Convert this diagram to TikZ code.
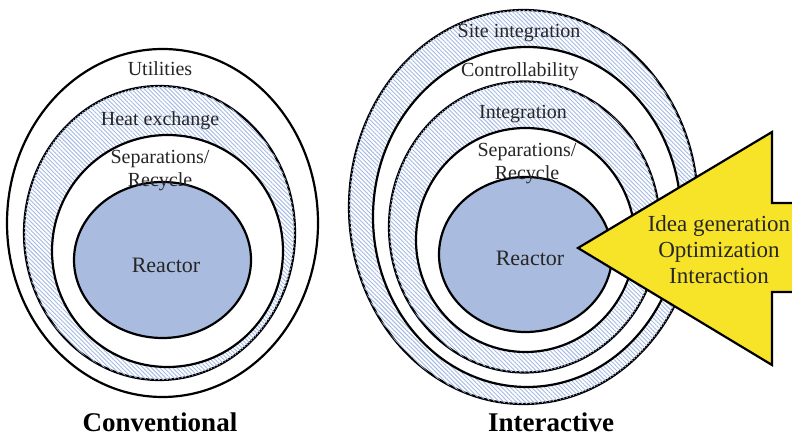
\documentclass[tikz,border=0pt]{standalone}
\usepackage{fontspec}
\setmainfont{Liberation Serif}
\usetikzlibrary{patterns.meta}

\definecolor{reactorblue}{RGB}{169,187,222}
\definecolor{hatchblue}{RGB}{165,186,228}
\definecolor{ideayellow}{RGB}{247,228,40}

\tikzset{
  ring/.style={draw=black,line width=1.1pt},
  hatched/.style={ring,fill=white,postaction={pattern={Lines[angle=-45,distance=1.5pt,line width=0.45pt]},pattern color=hatchblue}},
  plain/.style={ring,fill=white},
  core/.style={ring,fill=reactorblue},
  layer/.style={font=\fontsize{10}{11.5}\selectfont,text=black!85,align=center,inner sep=0pt},
  title/.style={font=\fontsize{13.5}{15}\selectfont\bfseries,inner sep=0pt}
}

\begin{document}
\begin{tikzpicture}[x=0.5pt,y=-0.5pt]

          \useasboundingbox (0,0) rectangle (792,437);

          \begin{scope}
            \clip (0,0) rectangle (792,437);

            % conventional onion
            \draw[plain]   (162.5,223) ellipse [x radius=155.5, y radius=174];
            \draw[hatched] (159.5,233) ellipse [x radius=135.5, y radius=147];
            \draw[plain]   (167.5,251) ellipse [x radius=115.5, y radius=116];
            \draw[core]    (162.5,260) ellipse [x radius=88.5, y radius=78];

            % interactive onion
            \draw[hatched] (523.5,207) ellipse [x radius=174.5, y radius=197];
            \draw[plain]   (527,217)   ellipse [x radius=154, y radius=170];
            \draw[hatched] (524.5,227) ellipse [x radius=135.5, y radius=145.5];
            \draw[plain]   (525.5,240) ellipse [x radius=109.5, y radius=112];
            \draw[core]    (525.5,254.5) ellipse [x radius=86.5, y radius=77.5];

            % arrow pointing into the reactor
            \draw[line width=1.1pt,fill=ideayellow,line join=miter]
              (578,248) -- (772,132) -- (772,203) -- (800,203) -- (800,292)
              -- (772,292) -- (772,365) -- cycle;
          \end{scope}

          \begin{scope}[every node/.style={layer}]
            \node (util)  at (160,69)  {Utilities};
            \node (heat)  at (160,121) {Heat exchange};
            \node (sep1)  at (160,170.5) {Separations/\\Recycle};
            \node (site)  at (519,33)  {Site integration};
            \node (ctrl)  at (520,72)  {Controllability};
            \node (integ) at (523,114) {Integration};
            \node (sep2)  at (527,163.5) {Separations/\\Recycle};
          \end{scope}

          \begin{scope}[every node/.style={layer,font=\fontsize{11}{13}\selectfont}]
            \node (reac1) at (166,265) {Reactor};
            \node (reac2) at (530,258) {Reactor};
          \end{scope}

          \node[layer,font=\fontsize{11.5}{13}\selectfont] (ideas) at (719,250)
            {Idea generation\\Optimization\\Interaction};

          \node[title] (conv)  at (160,422) {Conventional};
          \node[title] (inter) at (551,422) {Interactive};

        \end{tikzpicture}
\end{document}
